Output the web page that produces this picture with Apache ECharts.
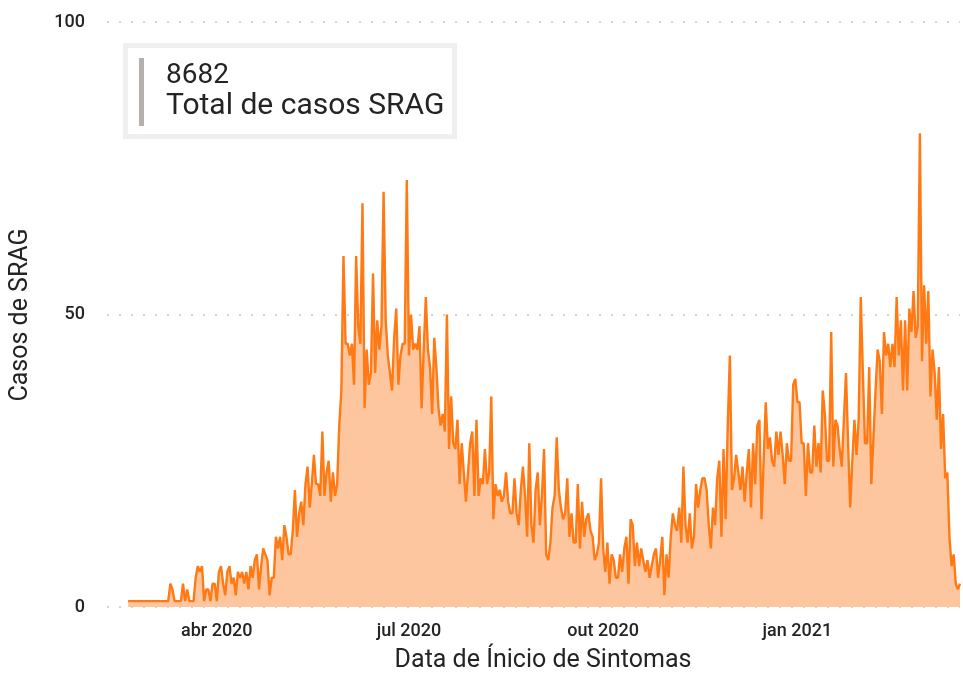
<!DOCTYPE html>
<html>
<head>
<meta charset="utf-8">
<script src="https://cdn.jsdelivr.net/npm/echarts@6/dist/echarts.min.js"></script>
<style>
  html, body { margin: 0; padding: 0; background: #fff; }
  #chart { width: 963px; height: 673px; }
</style>
</head>
<body>
<div id="chart"></div>
<script>
// daily SRAG cases, first value = 19 Feb 2020
var startDate = Date.UTC(2020, 1, 19);
var casos = [
  1,1,1,1,1,1,1,1,1,1,1,1,1,1,1,1,1,1,1,1,
  4,3,1,1,1,1,4,1,3,1, 1,1,5,7,6,7,1,3,3,1,
  4,4,1,6,7,4,2,6,7,4, 5,2,6,5,6,4,6,3,7,5,
  8,9,3,7,10,9,8,2,5,5, 12,10,12,8,14,12,9,9,13,20,
  12,16,18,14,21,24,17,21,26,21, 21,19,30,19,23,25,18,23,19,21,
  31,37,60,45,45,43,45,38,60,48, 45,69,34,44,38,40,57,40,49,44,
  48,71,49,43,40,37,46,51,38,43, 45,45,73,43,50,44,45,44,48,34,
  44,53,44,41,33,46,41,34,31,33, 30,50,27,36,28,27,32,21,28,23,
  18,23,28,30,19,32,19,22,21,27, 21,23,36,15,21,19,20,18,19,23,
  18,16,16,22,16,14,20,24,19,12, 28,14,11,20,23,14,19,27,9,8,
  11,17,19,29,20,17,15,16,22,12, 16,11,11,21,10,18,12,15,16,13,
  12,8,9,11,22,10,6,11,4,9, 8,5,5,9,6,10,12,4,15,14,
  7,11,7,10,8,6,8,5,7,9, 10,5,8,12,2,9,5,12,16,14,
  13,17,11,24,14,11,16,10,12,21, 17,20,22,22,20,14,10,17,14,22,
  25,12,27,15,31,43,20,22,26,23, 20,24,18,23,27,17,28,21,31,32,
  15,25,35,27,29,25,24,30,26,30, 26,21,28,25,25,38,39,35,35,28,
  28,19,28,23,23,31,24,28,23,37, 33,25,25,47,24,32,31,27,24,32,
  40,28,17,25,32,26,32,53,40,28, 28,41,21,29,37,44,42,33,47,43,
  45,41,45,41,53,43,49,37,49,37, 51,47,54,46,48,81,42,55,45,54,
  36,44,40,32,41,27,33,22,23,12, 7,9,4,3,4
];
var tickDates = ['2020-04-01', '2020-07-01', '2020-10-01', '2021-01-01'];
var tickLabels = ['abr 2020', 'jul 2020', 'out 2020', 'jan 2021'];
var totalCasos = 8682;

var DAY = 24 * 3600 * 1000;
var seriesData = casos.map(function (v, i) { return [startDate + i * DAY, v]; });
var tickValues = tickDates.map(function (d) { return Date.parse(d + 'T00:00:00Z'); });

var txt = '#252423';
var font = 'Roboto, "Noto Sans", sans-serif';

var chart = echarts.init(document.getElementById('chart'));
chart.setOption({
  animation: false,
  backgroundColor: '#fff',
  grid: { left: 107, right: 3, top: 22, bottom: 66 },
  xAxis: {
    type: 'value',
    min: Date.UTC(2020, 1, 9),
    max: startDate + (casos.length - 1) * DAY,
    axisLine: { show: false },
    axisTick: { show: false },
    splitLine: { show: false },
    axisLabel: {
      customValues: tickValues,
      formatter: function (val) {
        var i = tickValues.indexOf(val);
        return i >= 0 ? tickLabels[i] : '';
      },
      fontSize: 18,
      fontWeight: 500,
      fontFamily: font,
      color: txt,
      margin: 15
    }
  },
  yAxis: {
    type: 'value',
    min: 0,
    max: 100,
    interval: 50,
    axisLine: { show: false },
    axisTick: { show: false },
    axisLabel: { fontSize: 18, fontWeight: 500, fontFamily: font, color: txt, margin: 22 },
    splitLine: { lineStyle: { color: '#c8c6c4', width: 1.5, type: [2, 10] } }
  },
  series: [{
    type: 'line',
    data: seriesData,
    showSymbol: false,
    lineStyle: { color: '#FF7A14', width: 2.4 },
    itemStyle: { color: '#FF7A14' },
    areaStyle: { color: '#FDC69E', opacity: 1 }
  }],
  graphic: [
    {
      type: 'rect', z: 100,
      shape: { x: 125.5, y: 45.5, width: 329, height: 91 },
      style: { fill: '#fff', stroke: '#f0efee', lineWidth: 5 }
    },
    {
      type: 'rect', z: 101,
      shape: { x: 139, y: 58, width: 5, height: 68 },
      style: { fill: '#b3b0ad' }
    },
    {
      type: 'text', left: 166, top: 62, z: 101,
      style: { text: String(totalCasos), font: '28px ' + font, fill: txt }
    },
    {
      type: 'text', left: 166, top: 91, z: 101,
      style: { text: 'Total de casos SRAG', font: '30px ' + font, fill: txt }
    },
    {
      type: 'text', z: 101, x: 543, y: 661,
      style: { text: 'Data de Ínicio de Sintomas', font: '25px ' + font, fill: txt, align: 'center', verticalAlign: 'middle' }
    },
    {
      type: 'text', z: 101, x: 21, y: 315, rotation: Math.PI / 2,
      style: { text: 'Casos de SRAG', font: '25px ' + font, fill: txt, align: 'center', verticalAlign: 'middle' }
    }
  ]
});
</script>
</body>
</html>
